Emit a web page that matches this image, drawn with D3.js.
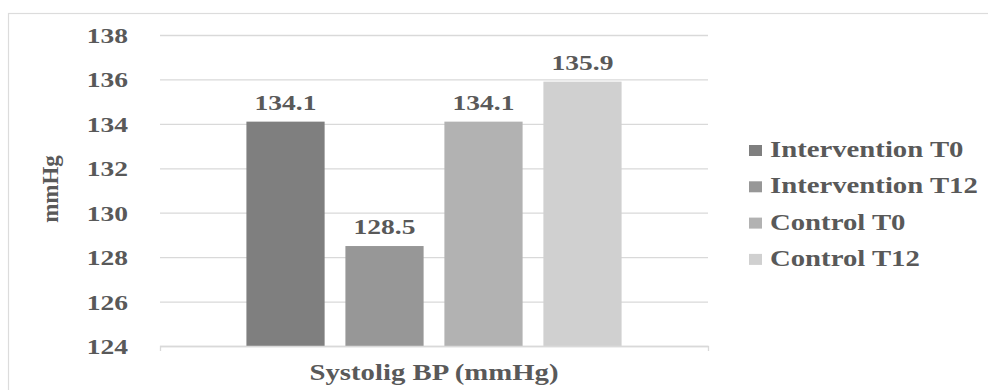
<!DOCTYPE html>
<html>
<head>
<meta charset="utf-8">
<script src="https://cdn.jsdelivr.net/npm/d3@7"></script>
<style>
  html, body { margin: 0; padding: 0; background: #fff; }
  svg { display: block; }
</style>
</head>
<body>
<svg id="chart" width="988" height="390"></svg>
<script>
// ---- data ----
const categories = ["Systolig BP (mmHg)"];
const seriesNames = ["Intervention T0", "Intervention T12", "Control T0", "Control T12"];
const seriesValues = [134.1, 128.5, 134.1, 135.9];
const seriesColors = ["#7f7f7f", "#979797", "#b2b2b2", "#d0d0d0"];
const yTicks = [124, 126, 128, 130, 132, 134, 136, 138];
const yLabel = "mmHg";

// ---- layout ----
const FONT = "'Liberation Serif'";
const TXT = "#595959";
const svg = d3.select("#chart");
const plot = { left: 160, right: 708, top: 35, bottom: 346 };
const SX = 1.25; // horizontal stretch of the reference text

function styleText(sel, size) {
  return sel.attr("font-family", FONT).attr("font-weight", "bold")
    .attr("font-size", size).attr("fill", TXT);
}

svg.append("rect")
  .attr("x", 8.5).attr("y", 13.5).attr("width", 1000).attr("height", 400)
  .attr("fill", "none").attr("stroke", "#dcdcdc").attr("stroke-width", 1.2);

const y = d3.scaleLinear().domain([124, 138]).range([plot.bottom, plot.top]);
const x0 = d3.scaleBand().domain(categories).range([plot.left, plot.right]).paddingOuter(0.192).paddingInner(0);
const x1 = d3.scaleBand().domain(seriesNames).range([0, x0.bandwidth()]).paddingInner(0.21).paddingOuter(0.105);

// gridlines + y tick labels
const yAxis = svg.append("g")
  .attr("transform", `translate(${plot.left},0)`)
  .call(d3.axisLeft(y).tickValues(yTicks).tickSizeInner(-(plot.right - plot.left)).tickSizeOuter(0).tickFormat(d3.format("d")));
yAxis.select(".domain").remove();
yAxis.selectAll(".tick line").attr("stroke", "#d9d9d9").attr("stroke-width", 1.3);
styleText(yAxis.selectAll(".tick text"), 22)
  .attr("x", -32 / SX).attr("dy", "0.34em")
  .attr("transform", `scale(${SX},1)`);

// bars
const groups = svg.append("g").selectAll("g").data(categories).join("g")
  .attr("transform", d => `translate(${x0(d)},0)`);

groups.selectAll("rect").data(seriesNames.map((s, i) => ({ s, v: seriesValues[i], c: seriesColors[i] })))
  .join("rect")
  .attr("x", d => x1(d.s)).attr("width", x1.bandwidth())
  .attr("y", d => y(d.v)).attr("height", d => y(124) - y(d.v))
  .attr("fill", d => d.c);

styleText(groups.selectAll("g.lbl").data(seriesNames.map((s, i) => ({ s, v: seriesValues[i] })))
  .join("g").attr("class", "lbl")
  .attr("transform", d => `translate(${x1(d.s) + x1.bandwidth() / 2},${y(d.v) - 12}) scale(${SX},1)`)
  .append("text").attr("text-anchor", "middle"), 22)
  .text(d => d.v.toFixed(1));

// x axis
const xAxis = svg.append("g")
  .attr("transform", `translate(0,${plot.bottom})`)
  .call(d3.axisBottom(x0).tickSizeInner(0).tickSizeOuter(5).tickFormat(""));
xAxis.select(".domain").attr("stroke", "#d9d9d9").attr("stroke-width", 1.3);
xAxis.selectAll(".tick").remove();

styleText(svg.append("g").selectAll("g").data(categories).join("g")
  .attr("transform", d => `translate(${x0(d) + x0.bandwidth() / 2},380) scale(${SX},1)`)
  .append("text").attr("text-anchor", "middle"), 23).text(d => d);

// y axis title
styleText(svg.append("text")
  .attr("transform", `translate(58,189) rotate(-90)`)
  .attr("text-anchor", "middle"), 23).text(yLabel);

// legend
const legend = svg.append("g").selectAll("g").data(seriesNames).join("g")
  .attr("transform", (d, i) => `translate(749,${157 + i * 36.3})`);
legend.append("rect").attr("x", 0).attr("y", -12).attr("width", 13).attr("height", 11)
  .attr("fill", (d, i) => seriesColors[i]);
styleText(legend.append("g").attr("transform", `translate(21,0) scale(${SX},1)`)
  .append("text"), 23).text(d => d);
</script>
</body>
</html>
